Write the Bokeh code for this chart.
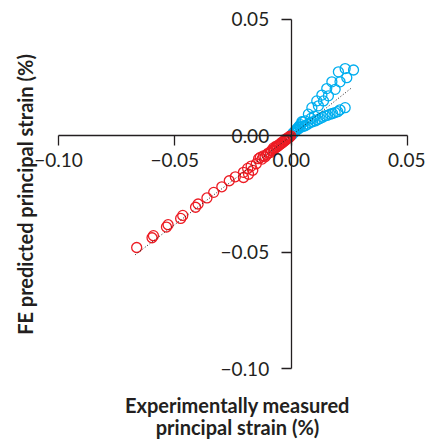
from math import pi
from bokeh.plotting import figure
from bokeh.models import Range1d, LinearAxis, FixedTicker, CustomJSTickFormatter, Label
from bokeh.embed import file_html
from bokeh.resources import INLINE

# ---- data ----
red_x = [-0.0664, -0.0598, -0.0592, -0.0536, -0.0529, -0.0475, -0.0466, -0.0411, -0.0400,
         -0.0362, -0.0333, -0.0298, -0.0266, -0.0240, -0.0205, -0.0205, -0.0187, -0.0183,
         -0.0172, -0.0165, -0.0150, -0.0140, -0.0133, -0.0125, -0.0119, -0.0112, -0.0105,
         -0.0098, -0.0090, -0.0085, -0.0078, -0.0072, -0.0066, -0.0060, -0.0054, -0.0048,
         -0.0042, -0.0036, -0.0030, -0.0025, -0.0020, -0.0015, -0.0010, -0.0005, -0.0002,
         -0.0008, -0.0018, -0.0028, -0.0040, -0.0052, -0.0064, -0.0076]
red_y = [-0.0480, -0.0438, -0.0429, -0.0392, -0.0382, -0.0355, -0.0342, -0.0307, -0.0293,
         -0.0267, -0.0243, -0.0219, -0.0193, -0.0176, -0.0157, -0.0179, -0.0140, -0.0165,
         -0.0130, -0.0148, -0.0120, -0.0098, -0.0093, -0.0100, -0.0086, -0.0090, -0.0080,
         -0.0074, -0.0072, -0.0064, -0.0060, -0.0055, -0.0050, -0.0047, -0.0042, -0.0036,
         -0.0033, -0.0028, -0.0023, -0.0019, -0.0015, -0.0012, -0.0008, -0.0004, 0.0000,
         -0.0004, -0.0010, -0.0018, -0.0028, -0.0038, -0.0044, -0.0052]

blue_x = [0.0268, 0.0232, 0.0239, 0.0203, 0.0210, 0.0175, 0.0189, 0.0153, 0.0160, 0.0132,
          0.0139, 0.0110, 0.0117, 0.0089, 0.0074, 0.0060, 0.0050, 0.0040, 0.0030, 0.0020,
          0.0010,
          0.0232, 0.0210, 0.0200, 0.0189, 0.0178, 0.0167, 0.0156, 0.0146, 0.0135, 0.0124,
          0.0113, 0.0103, 0.0092, 0.0082, 0.0071, 0.0060, 0.0050, 0.0039, 0.0028, 0.0017,
          0.0008, 0.0004, 0.0046, 0.0100, 0.0085, 0.0035, 0.0025, 0.0015]
blue_y = [0.0283, 0.0289, 0.0250, 0.0275, 0.0232, 0.0232, 0.0200, 0.0203, 0.0172, 0.0175,
          0.0150, 0.0150, 0.0129, 0.0121, 0.0093, 0.0064, 0.0060, 0.0048, 0.0036, 0.0024,
          0.0012,
          0.0121, 0.0112, 0.0104, 0.0100, 0.0096, 0.0093, 0.0088, 0.0086, 0.0080, 0.0074,
          0.0069, 0.0064, 0.0060, 0.0057, 0.0050, 0.0043, 0.0040, 0.0036, 0.0027, 0.0021,
          0.0012, 0.0005, 0.0061, 0.0085, 0.0075, 0.0042, 0.0030, 0.0016]

fit_red_x = [-0.0670, 0.0000]
fit_red_y = [-0.0511, 0.0000]
fit_blue_x = [0.0000, 0.0258]
fit_blue_y = [0.0000, 0.0205]

ticks = [-0.10, -0.05, 0.00, 0.05]
axis_bounds = (-0.10, 0.05)

x_title_1 = "Experimentally measured"
x_title_2 = "principal strain (%)"
y_title = "FE predicted principal strain (%)"

# ---- styling ----
FONT = "Lato"
INK = "#231f20"
RED = "#ed1c24"
BLUE = "#00aeef"
W, H = 425, 439

p = figure(width=W, height=H,
           x_range=Range1d(-0.124928, 0.057735),
           y_range=Range1d(-0.130513, 0.058166),
           output_backend="svg", toolbar_location=None,
           x_axis_location=None, y_axis_location=None,
           min_border=0, outline_line_color=None,
           background_fill_color="white", border_fill_color="white")
p.grid.visible = False

fmt = CustomJSTickFormatter(code="return (tick < -1e-9 ? '\u2212' : '') + Math.abs(tick).toFixed(2);")

def style_axis(ax, standoff):
    ax.axis_line_color = INK
    ax.axis_line_width = 1.3
    ax.major_tick_line_color = INK
    ax.major_tick_line_width = 1.3
    ax.major_tick_in = 0
    ax.major_tick_out = 10
    ax.minor_tick_in = 0
    ax.minor_tick_out = 0
    ax.major_label_text_font = FONT
    ax.major_label_text_font_size = "19px"
    ax.major_label_text_color = INK
    ax.major_label_standoff = standoff

xa = LinearAxis(fixed_location=0, bounds=axis_bounds, ticker=FixedTicker(ticks=ticks), formatter=fmt)
ya = LinearAxis(fixed_location=0, bounds=axis_bounds, ticker=FixedTicker(ticks=ticks), formatter=fmt)
style_axis(xa, 7)
style_axis(ya, 12)
p.add_layout(xa, "below")
p.add_layout(ya, "left")

p.scatter(blue_x, blue_y, size=10, marker="circle", fill_color=None,
          line_color=BLUE, line_width=1.3)
p.scatter(red_x, red_y, size=10, marker="circle", fill_color=None,
          line_color=RED, line_width=1.3)
p.line(fit_red_x, fit_red_y, line_color=INK, line_width=1, line_dash="1 2")
p.line(fit_blue_x, fit_blue_y, line_color=INK, line_width=1, line_dash="1 2")

p.add_layout(Label(x=24, y=H - 194, x_units="screen", y_units="screen", text=y_title,
                   angle=pi / 2, text_align="center", text_baseline="alphabetic",
                   text_font=FONT, text_font_style="bold", text_font_size="20px",
                   text_color=INK))
p.add_layout(Label(x=237, y=H - 404, x_units="screen", y_units="screen", text=x_title_1,
                   text_align="center", text_baseline="alphabetic",
                   text_font=FONT, text_font_style="bold", text_font_size="20px",
                   text_color=INK))
p.add_layout(Label(x=237, y=H - 426, x_units="screen", y_units="screen", text=x_title_2,
                   text_align="center", text_baseline="alphabetic",
                   text_font=FONT, text_font_style="bold", text_font_size="20px",
                   text_color=INK))

open("out.html", "w").write(file_html(p, INLINE))
